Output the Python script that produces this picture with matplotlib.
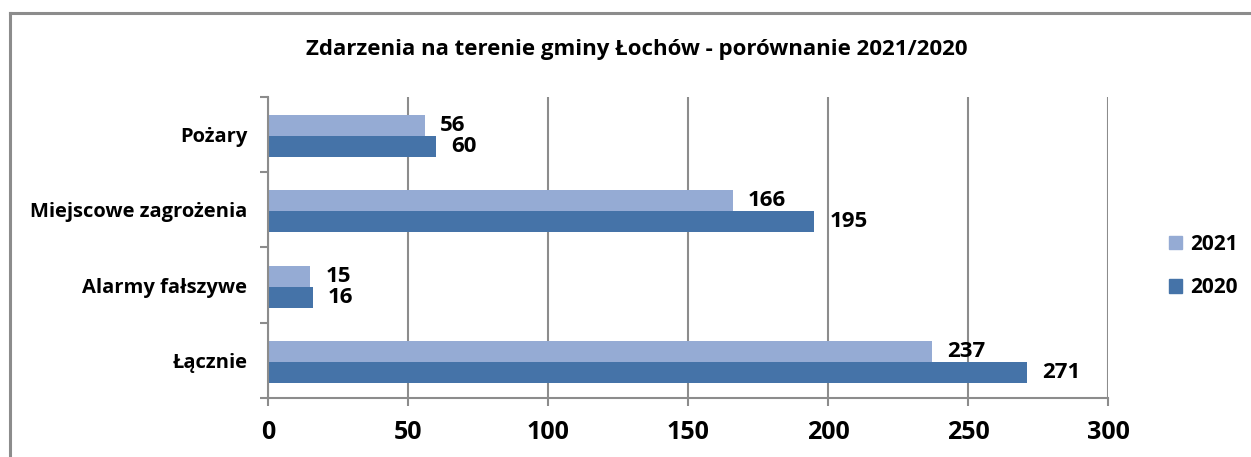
import matplotlib
matplotlib.use("Agg")
from matplotlib import pyplot as plt
from matplotlib.lines import Line2D
from matplotlib.patches import Patch
import numpy as np

categories = ["Pożary", "Miejscowe zagrożenia", "Alarmy fałszywe", "Łącznie"]
values_2021 = [56, 166, 15, 237]
values_2020 = [60, 195, 16, 271]
series_labels = ["2021", "2020"]
x_ticks = [0, 50, 100, 150, 200, 250, 300]

light = "#95abd4"
dark = "#4573a8"
grey = "#8c8c8c"

plt.rcParams["font.family"] = ["Open Sans", "DejaVu Sans"]
plt.rcParams["font.weight"] = "bold"

W, H = 1251, 457
fig = plt.figure(figsize=(W / 100, H / 100), dpi=100)

# frame of the chart area (only top and left visible)
fig.add_artist(Line2D([9.5 / W, 9.5 / W], [0, 1 - 12.5 / H], color=grey, lw=2.2))
fig.add_artist(Line2D([9.5 / W, 1], [1 - 12.5 / H, 1 - 12.5 / H], color=grey, lw=2.2))

ax = fig.add_axes([268 / W, 59 / H, 840 / W, 301 / H])

centers = np.arange(len(categories)) + 0.5
h = 0.28
b21 = ax.barh(centers - h / 2 + 0.02, values_2021, height=h, color=light, label=series_labels[0])
b20 = ax.barh(centers + h / 2 + 0.02, values_2020, height=h, color=dark, label=series_labels[1])

for bars, vals in ((b21, values_2021), (b20, values_2020)):
    for rect, v in zip(bars, vals):
        ax.annotate(str(v), (rect.get_width(), rect.get_y() + rect.get_height() / 2),
                    xytext=(11, 0), textcoords="offset points", va="center", ha="left",
                    fontsize=16, fontweight="bold")

ax.set_xlim(0, 300)
ax.set_ylim(len(categories), 0)
ax.set_xticks(x_ticks)
ax.set_xticklabels([str(t) for t in x_ticks], fontsize=18, fontweight="bold")
ax.tick_params(axis="x", length=6, width=1.5, color=grey, pad=10)

ax.set_yticks(np.arange(len(categories) + 1))
ax.set_yticklabels([])
ax.set_yticks(centers, minor=True)
ax.set_yticklabels(categories, minor=True, fontsize=14.5, fontweight="bold")
ax.tick_params(axis="y", which="major", length=6, width=1.5, color=grey)
ax.tick_params(axis="y", which="minor", length=0, pad=15)

ax.grid(axis="x", color=grey, lw=1.5)
ax.set_axisbelow(True)
for s in ("top", "right"):
    ax.spines[s].set_visible(False)
for s in ("left", "bottom"):
    ax.spines[s].set_color(grey)
    ax.spines[s].set_linewidth(1.5)

fig.text(637 / W, 1 - 49 / H, "Zdarzenia na terenie gminy Łochów - porównanie 2021/2020",
         ha="center", va="center", fontsize=16, fontweight="bold")

handles = [Patch(color=light), Patch(color=dark)]
fig.legend(handles, series_labels, loc="center left", bbox_to_anchor=(1169 / W, 1 - 266 / H),
           frameon=False, borderpad=0, borderaxespad=0, handlelength=0.6, handleheight=0.6,
           handletextpad=0.4, labelspacing=1.1, prop={"weight": "bold", "size": 15})

fig.savefig("out.png", dpi=100)
